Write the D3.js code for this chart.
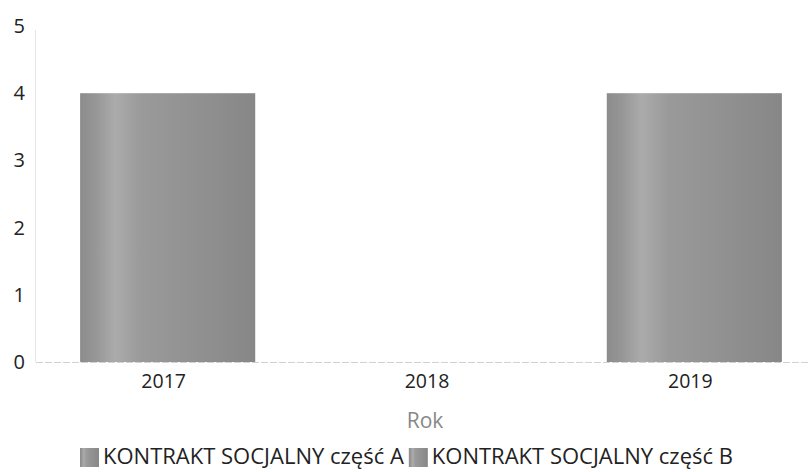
<!DOCTYPE html>
<html><head><meta charset="utf-8">
<script src="https://cdn.jsdelivr.net/npm/d3@7"></script>
<style>body{margin:0;background:#fff;}svg{display:block;font-family:"Open Sans",sans-serif;}</style>
</head><body><svg id="c" width="808" height="472"></svg>
<script>
const categories = ["2017", "2018", "2019"];
const seriesNames = ["KONTRAKT SOCJALNY część A", "KONTRAKT SOCJALNY część B"];
const partA = [4, 0, 0];
const partB = [0, 0, 4];
const yTicks = [0, 1, 2, 3, 4, 5];
const xTitle = "Rok";

const svg = d3.select("#c");
const defs = svg.append("defs");
const grad = defs.append("linearGradient").attr("id","g").attr("x1","0").attr("x2","1").attr("y1","0").attr("y2","0");
[[0,"#8c8c8c"],[0.08,"#959595"],[0.2,"#ababab"],[0.35,"#9a9a9a"],[1,"#878787"]].forEach(([o,c])=>grad.append("stop").attr("offset",o).attr("stop-color",c));

const x = d3.scaleBand().domain(categories).range([36, 826]).paddingInner(0.335).paddingOuter(0.1675);
const y = d3.scaleLinear().domain([0,5]).range([362, 26]);

// y axis line
svg.append("line").attr("x1",35.5).attr("x2",35.5).attr("y1",30).attr("y2",y(0)).attr("stroke","#e6e6e6");
// baseline
svg.append("line").attr("x1",36).attr("x2",808).attr("y1",y(0)+0.5).attr("y2",y(0)+0.5).attr("stroke","#d2d2d2").attr("stroke-dasharray","7,2");

svg.append("g").selectAll("text").data(yTicks).join("text")
  .attr("x",25).attr("y",d=>y(d)+7).attr("text-anchor","end")
  .attr("font-size",20).attr("fill","#222").text(d=>d);

const stackData = categories.map((c,i)=>({cat:c, A:partA[i], B:partB[i]}));
const stack = d3.stack().keys(["A","B"])(stackData);
svg.append("g").selectAll("g").data(stack).join("g")
  .selectAll("rect").data(d=>d.filter(e=>e[1]-e[0]>0)).join("rect")
  .attr("x",d=>x(d.data.cat)).attr("width",x.bandwidth())
  .attr("y",d=>y(d[1])).attr("height",d=>y(d[0])-y(d[1]))
  .attr("fill","url(#g)");

svg.append("g").selectAll("text").data(categories).join("text")
  .attr("x",d=>x(d)+x.bandwidth()/2 - 4).attr("y",388).attr("text-anchor","middle")
  .attr("font-size",19.5).attr("fill","#222").text(d=>d);

svg.append("text").attr("x",425).attr("y",428).attr("text-anchor","middle")
  .attr("font-size",21).attr("fill","#888").text(xTitle);

const leg = svg.append("g");
let lx = 80;
seriesNames.forEach((n,i)=>{
  leg.append("rect").attr("x",lx).attr("y",448).attr("width",19).attr("height",19).attr("fill","url(#g)");
  const t = leg.append("text").attr("x",lx+23).attr("y",464).attr("font-size",22).attr("fill","#222").text(n);
  lx += 23 + t.node().getComputedTextLength() + 5;
});
</script></body></html>
